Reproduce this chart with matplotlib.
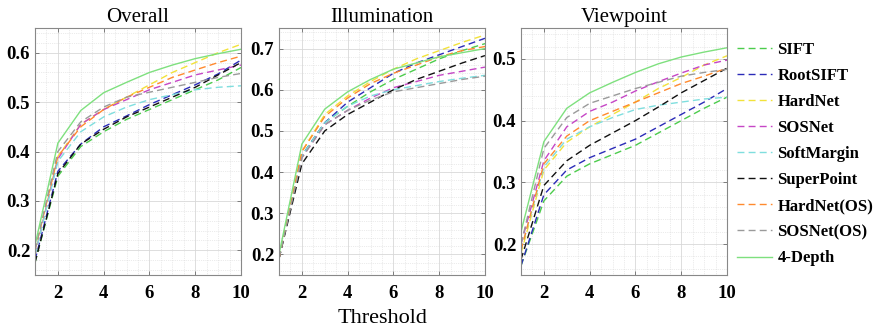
import matplotlib
matplotlib.use("Agg")
import matplotlib.pyplot as plt
from matplotlib.ticker import AutoMinorLocator

x = list(range(1, 11))

methods = ["SIFT", "RootSIFT", "HardNet", "SOSNet", "SoftMargin",
           "SuperPoint", "HardNet(OS)", "SOSNet(OS)", "4-Depth"]
colors = ["#4ccc4c", "#2b2bb8", "#f2e23a", "#c646c6", "#7fdede",
          "#111111", "#ff8a2e", "#9a9a9a", "#7ee07e"]
styles = ["--"] * 8 + ["-"]

overall = {
    "SIFT":        [0.175, 0.350, 0.410, 0.440, 0.465, 0.485, 0.505, 0.525, 0.545, 0.570],
    "RootSIFT":    [0.180, 0.360, 0.415, 0.450, 0.472, 0.495, 0.515, 0.535, 0.557, 0.585],
    "HardNet":     [0.190, 0.390, 0.455, 0.485, 0.510, 0.535, 0.560, 0.580, 0.600, 0.617],
    "SOSNet":      [0.190, 0.385, 0.455, 0.485, 0.505, 0.525, 0.540, 0.555, 0.565, 0.575],
    "SoftMargin":  [0.190, 0.380, 0.440, 0.470, 0.490, 0.505, 0.515, 0.525, 0.530, 0.533],
    "SuperPoint":  [0.175, 0.355, 0.415, 0.445, 0.470, 0.490, 0.510, 0.530, 0.555, 0.580],
    "HardNet(OS)": [0.200, 0.390, 0.450, 0.485, 0.510, 0.530, 0.550, 0.565, 0.580, 0.593],
    "SOSNet(OS)":  [0.200, 0.400, 0.460, 0.490, 0.510, 0.520, 0.530, 0.540, 0.550, 0.558],
    "4-Depth":     [0.210, 0.417, 0.483, 0.519, 0.540, 0.560, 0.575, 0.588, 0.598, 0.607],
}

illumination = {
    "SIFT":        [0.190, 0.440, 0.520, 0.560, 0.595, 0.625, 0.650, 0.675, 0.695, 0.712],
    "RootSIFT":    [0.190, 0.440, 0.520, 0.570, 0.605, 0.640, 0.665, 0.685, 0.705, 0.725],
    "HardNet":     [0.190, 0.450, 0.540, 0.585, 0.620, 0.650, 0.675, 0.695, 0.715, 0.733],
    "SOSNet":      [0.190, 0.435, 0.515, 0.550, 0.580, 0.605, 0.620, 0.635, 0.645, 0.655],
    "SoftMargin":  [0.190, 0.440, 0.520, 0.560, 0.585, 0.600, 0.610, 0.620, 0.628, 0.635],
    "SuperPoint":  [0.190, 0.420, 0.500, 0.540, 0.570, 0.600, 0.625, 0.645, 0.665, 0.683],
    "HardNet(OS)": [0.190, 0.450, 0.535, 0.580, 0.615, 0.640, 0.660, 0.680, 0.695, 0.705],
    "SOSNet(OS)":  [0.190, 0.435, 0.515, 0.550, 0.575, 0.595, 0.605, 0.615, 0.625, 0.633],
    "4-Depth":     [0.200, 0.468, 0.553, 0.595, 0.625, 0.650, 0.665, 0.680, 0.690, 0.700],
}

viewpoint = {
    "SIFT":        [0.165, 0.270, 0.310, 0.330, 0.345, 0.360, 0.380, 0.400, 0.420, 0.438],
    "RootSIFT":    [0.165, 0.280, 0.320, 0.340, 0.355, 0.370, 0.390, 0.410, 0.430, 0.452],
    "HardNet":     [0.185, 0.320, 0.365, 0.390, 0.410, 0.430, 0.452, 0.470, 0.490, 0.505],
    "SOSNet":      [0.200, 0.335, 0.390, 0.415, 0.430, 0.448, 0.463, 0.477, 0.490, 0.498],
    "SoftMargin":  [0.190, 0.325, 0.370, 0.390, 0.405, 0.418, 0.425, 0.430, 0.435, 0.438],
    "SuperPoint":  [0.175, 0.295, 0.335, 0.360, 0.380, 0.400, 0.422, 0.445, 0.465, 0.485],
    "HardNet(OS)": [0.190, 0.330, 0.375, 0.400, 0.415, 0.430, 0.445, 0.460, 0.472, 0.485],
    "SOSNet(OS)":  [0.200, 0.355, 0.405, 0.428, 0.440, 0.452, 0.462, 0.472, 0.478, 0.483],
    "4-Depth":     [0.220, 0.366, 0.420, 0.445, 0.462, 0.478, 0.492, 0.503, 0.511, 0.518],
}

panels = [
    ("Overall", overall, (0.15, 0.65), [0.2, 0.3, 0.4, 0.5, 0.6]),
    ("Illumination", illumination, (0.15, 0.75), [0.2, 0.3, 0.4, 0.5, 0.6, 0.7]),
    ("Viewpoint", viewpoint, (0.15, 0.55), [0.2, 0.3, 0.4, 0.5]),
]

plt.rcParams["font.family"] = ["Liberation Serif", "DejaVu Serif"]

fig = plt.figure(figsize=(8.74, 3.29), dpi=100)
lefts = [35, 279, 521]
W, H = 874, 329

handles = []
for (title, data, ylim, yticks), left in zip(panels, lefts):
    ax = fig.add_axes([left / W, 1 - 275 / H, 206 / W, 247 / H])
    for name, c, ls in zip(methods, colors, styles):
        ln, = ax.plot(x, data[name], ls, color=c, lw=1.0,
                      dashes=(5, 3) if ls == "--" else (None, None))
        if title == "Overall":
            handles.append(ln)
    ax.set_xlim(1, 10)
    ax.set_ylim(*ylim)
    ax.set_xticks([2, 4, 6, 8, 10])
    ax.set_yticks(yticks)
    ax.xaxis.set_minor_locator(AutoMinorLocator(4))
    ax.yaxis.set_minor_locator(AutoMinorLocator(5))
    ax.grid(True, which="major", color="#d8d8d8", lw=0.6)
    ax.grid(True, which="minor", color="#d8d8d8", lw=0.5, ls=":")
    ax.set_axisbelow(True)
    ax.tick_params(which="both", direction="in", top=True, right=True,
                   length=3, width=0.5, color="#555555")
    ax.tick_params(which="minor", length=0)
    ax.tick_params(axis="x", pad=7)
    ax.tick_params(labelsize=13.5)
    for lab in ax.get_xticklabels() + ax.get_yticklabels():
        lab.set_fontweight("bold")
    for sp in ax.spines.values():
        sp.set_color("#888888")
        sp.set_linewidth(0.8)
    ax.set_title(title, fontsize=15, pad=4)
    if title == "Illumination":
        ax.set_xlabel("Threshold", fontsize=16, labelpad=5)

fig.legend(handles, methods, loc="upper left", bbox_to_anchor=(729 / W, 1 - 34 / H),
           frameon=False, borderpad=0, prop={"weight": "bold", "size": 12},
           handlelength=2.1, handletextpad=0.3, labelspacing=0.6)

fig.savefig("out.png", dpi=100)
